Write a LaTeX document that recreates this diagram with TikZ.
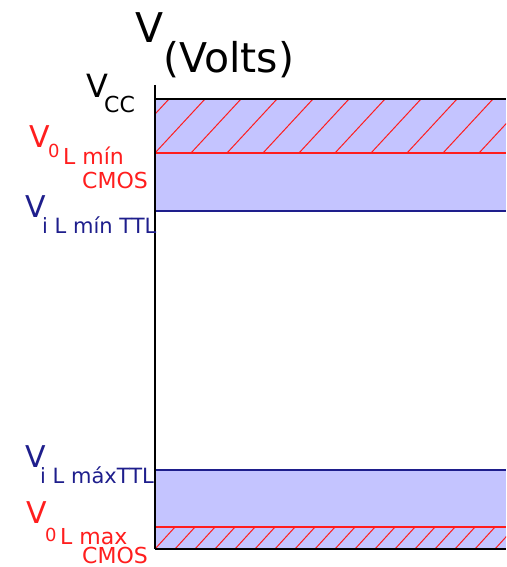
\documentclass[tikz,border=0pt]{standalone}
\usepackage{fontspec}
\setmainfont{DejaVu Sans}
\definecolor{bandfill}{RGB}{196,196,255}
\definecolor{lowred}{RGB}{255,30,30}
\definecolor{ttlblue}{RGB}{30,30,140}
\newcommand{\fs}[1]{\fontsize{#1}{#1}\selectfont}
\begin{document}
\begin{tikzpicture}[x=1pt, y=-1pt,
    lbl/.style={anchor=base west, inner sep=0pt},
    hatch/.style={lowred, line width=1pt}]
\useasboundingbox (0,0) rectangle (506,567);
% bands
\fill[bandfill] (155,99) rectangle (506,211);
\fill[bandfill] (155,470) rectangle (506,549);
\begin{scope}
\clip (155,99) rectangle (506,153);
\foreach \k in {-2,...,10}
  \draw[hatch] (155+36*\k,153) -- (205+36*\k,99);
\end{scope}
\begin{scope}
\clip (155,527) rectangle (506,549);
\foreach \k in {-2,...,18}
  \draw[hatch] (155+20*\k,549) -- (175+20*\k,527);
\end{scope}
% levels
\draw[black, line width=1.8pt] (155,99) -- (506,99);
\draw[lowred, line width=1.6pt] (155,153) -- (506,153);
\draw[ttlblue, line width=1.6pt] (155,211) -- (506,211);
\draw[ttlblue, line width=1.6pt] (155,470) -- (506,470);
\draw[lowred, line width=1.6pt] (155,527) -- (506,527);
\draw[black, line width=1.8pt] (155,549) -- (506,549);
\draw[black, line width=2pt] (155,85) -- (155,549);
% axis title
\node[lbl] (vtitle) at (135,43) {\fs{41}V};
\node[lbl] (volts) at (163,73) {\fs{41}(Volts)};
% Vcc
\node[lbl] (vcc) at (86,98) {\fs{32}V};
\node[lbl] (vccsub) at (104,113) {\fs{22}CC};
% V0L min CMOS
\node[lbl, lowred] (volmin) at (29,147) {\fs{30}V};
\node[lbl, lowred] (volminz) at (48,157) {\fs{18}0};
\node[lbl, lowred] (volminl) at (63,164) {\fs{22}L mín};
\node[lbl, lowred] (volminc) at (82,188) {\fs{22}CMOS};
% ViL min TTL
\node[lbl, ttlblue] (vilmin) at (25,217) {\fs{30}V};
\node[lbl, ttlblue] (vilmins) at (42,233) {\fs{21}i L mín TTL};
% ViL max TTL
\node[lbl, ttlblue] (vilmax) at (25,467) {\fs{30}V};
\node[lbl, ttlblue] (vilmaxs) at (40,483) {\fs{21}i L máxTTL};
% V0L max CMOS
\node[lbl, lowred] (volmax) at (26,523) {\fs{30}V};
\node[lbl, lowred] (volmaxz) at (45,541) {\fs{18}0};
\node[lbl, lowred] (volmaxl) at (60,544) {\fs{22}L max};
\node[lbl, lowred] (volmaxc) at (82,563) {\fs{22}CMOS};
\end{tikzpicture}
\end{document}
